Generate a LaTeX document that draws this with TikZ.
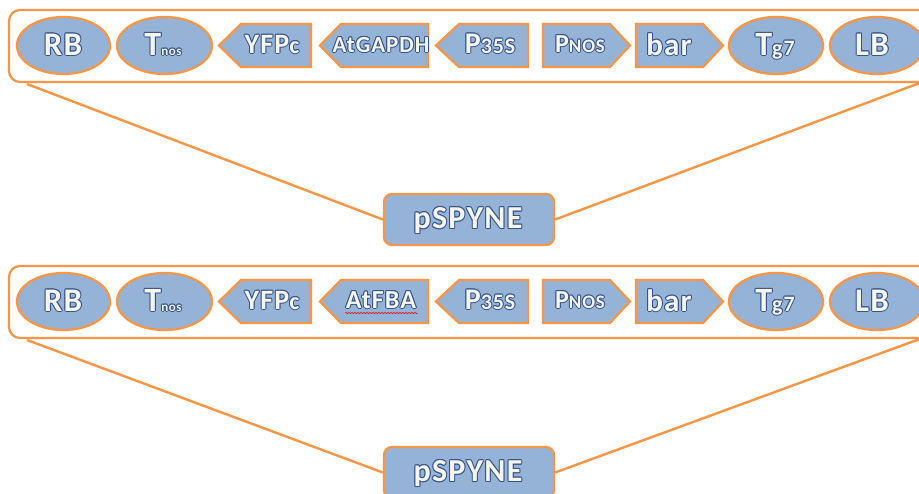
\documentclass[tikz,border=0pt]{standalone}
\usepackage{fontspec}
\setmainfont{Carlito}[LetterSpace=4]
\usetikzlibrary{shapes.geometric,decorations.pathmorphing}
\definecolor{pfill}{HTML}{95B3D7}
\definecolor{pedge}{HTML}{F79646}
\definecolor{tlight}{HTML}{F7F5EC}
\definecolor{tdark}{HTML}{34558A}
\newcommand\fs[1]{\fontsize{#1}{#1}\selectfont}
\newcommand\olcopy[2]{\rlap{\kern#1\raise#2\hbox{\color{tdark}\copy0}}}
\newcommand\otext[1]{\setbox0=\hbox{#1}%
  \olcopy{1pt}{0pt}\olcopy{-1pt}{0pt}\olcopy{0pt}{1pt}\olcopy{0pt}{-1pt}%
  \olcopy{.7pt}{.7pt}\olcopy{-.7pt}{.7pt}\olcopy{.7pt}{-.7pt}\olcopy{-.7pt}{-.7pt}%
  \hbox{\color{tlight}\box0}}
\tikzset{
  part/.style={draw=pedge, fill=pfill, line width=2.3pt, line join=miter},
  ell/.style={part, ellipse, inner sep=0pt},
  boxnode/.style={part, rectangle, rounded corners=8pt, inner sep=0pt},
  outerbox/.style={draw=pedge, line width=2.2pt, rounded corners=11pt},
  conn/.style={draw=pedge, line width=2.4pt},
  txt/.style={inner sep=0pt, anchor=base, font=\bfseries},
}
% #1 prefix, #2 yshift, #3 gene label, #4 pSPYNE centre y, #5 extra
\newcommand\panel[5]{%
\begin{scope}[yshift=#2, name prefix=#1]
  \draw[outerbox] (9,10) rectangle (945,82);
  % ellipses
  \node[ell, minimum width=93pt, minimum height=57pt] (rbs) at (63.5,45.5) {};
  \node[ell, minimum width=95pt, minimum height=57pt] (tnoss) at (164.5,45.5) {};
  \node[ell, minimum width=94pt, minimum height=57pt] (tg7s) at (776,45.5) {};
  \node[ell, minimum width=94pt, minimum height=57pt] (lbs) at (877,45.5) {};
  % arrows (pentagons)
  \draw[part] (219,45.5) -- (241,24) -- (311,24) -- (311,67) -- (241,67) -- cycle;
  \draw[part] (320,45.5) -- (341,24) -- (428,24) -- (428,67) -- (341,67) -- cycle;
  \draw[part] (436,45.5) -- (459,24) -- (528,24) -- (528,67) -- (459,67) -- cycle;
  \draw[part] (543,24) -- (610,24) -- (630,45.5) -- (610,67) -- (543,67) -- cycle;
  \draw[part] (636,24) -- (703,24) -- (723,45.5) -- (703,67) -- (636,67) -- cycle;
  % labels
  \node[txt] (rb) at (63,55) {\otext{\fs{33}RB}};
  \node[txt] (tnos) at (163,55) {\otext{\fs{34}T\fs{13}nos}};
  \node[txt] (yfpc) at (272,53) {\otext{\fs{28}YFP\fs{24}c}};
  \node[txt] (gene) at (381,52) {#3};
  \node[txt] (p35s) at (490,53) {\otext{\fs{30}P\fs{22}35S}};
  \node[txt] (pnos) at (580,52) {\otext{\fs{26}P\fs{19}NOS}};
  \node[txt] (bar) at (669,55) {\otext{\fs{31}bar}};
  \node[txt] (tg7) at (775,55) {\otext{\fs{34}T\fs{22}g7}};
  \node[txt] (lb) at (872,55) {\otext{\fs{33}LB}};
  #5
  % vector box
  \coordinate (lstart) at (27,84);
  \coordinate (rstart) at (921,82.5);
  \node[boxnode, minimum width=170pt, minimum height=51pt] (psp) at (469,#4) {};
  \draw[conn] (lstart) -- (psp.west);
  \draw[conn] (rstart) -- (psp.east);
  \node[txt] (psptext) at (468,#4+9) {\otext{\fs{32}pSPYNE}};
\end{scope}}
\begin{document}
\begin{tikzpicture}[x=1pt,y=-1pt]
\useasboundingbox (0,0) rectangle (919,493);
\fill[white] (0,0) rectangle (919,493);
\clip (0,0) rectangle (919,493);
\panel{top-}{0pt}{\otext{\fs{23}AtGAPDH}}{219.5}{}
\panel{bot-}{-256pt}{\otext{\fs{26}AtFBA}}{216.5}{%
  \coordinate (wl) at (345,57);
  \coordinate (wr) at (418,57);
  \draw[red, line width=0.5pt, decorate, decoration={snake, amplitude=0.7pt, segment length=3pt}] (wl) -- (wr);}
\end{tikzpicture}
\end{document}
